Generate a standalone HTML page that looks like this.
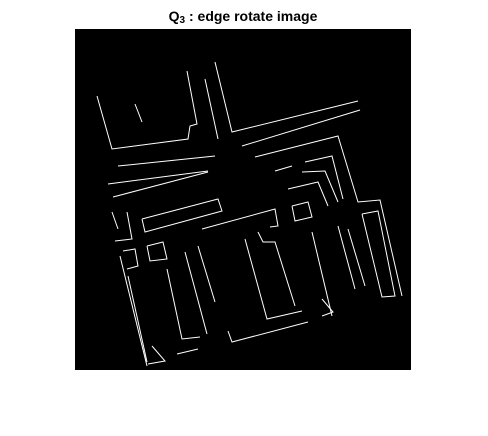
<!DOCTYPE html>
<html><head><meta charset="utf-8"><style>
html,body{margin:0;padding:0;background:#fff;width:488px;height:436px;overflow:hidden}
svg{display:block}
</style></head><body>
<svg width="488" height="436">
<text x="243" y="21" text-anchor="middle" font-family="Liberation Sans, sans-serif" font-weight="bold" font-size="14" fill="#000">Q<tspan font-size="10" dy="2">3</tspan><tspan dy="-2"> :  edge rotate image</tspan></text>
<rect x="75" y="29" width="336" height="341" fill="#000"/>
<g id="edges" fill="none" stroke="#fff" stroke-width="1"></g>
</svg>
<script>
const edgePaths = [
 [[215,62],[232,132],[358,101]],
 [[242,146],[360,110]],
 [[255,157],[338,136],[358,202],[380,200],[402,296]],
 [[97,96],[112,149],[188,139],[190,126],[197,124],[187,71]],
 [[205,79],[218,139]],
 [[135,104],[142,122]],
 [[118,166],[215,156]],
 [[108,184],[208,171]],
 [[113,197],[208,172]],
 [[142,219],[218,199],[222,211],[145,232],[142,219]],
 [[120,256],[147,366]],
 [[123,251],[135,249],[138,266],[127,269]],
 [[128,276],[147,362]],
 [[167,269],[182,339],[200,337]],
 [[185,252],[207,334]],
 [[147,246],[163,242],[167,259],[150,261],[147,246]],
 [[245,239],[267,319],[302,311]],
 [[258,232],[263,242],[275,242],[295,306]],
 [[202,229],[275,209],[278,226],[270,227]],
 [[292,206],[308,202],[312,217],[295,221],[292,206]],
 [[228,331],[232,342],[308,322]],
 [[322,299],[333,312],[322,316]],
 [[362,214],[378,211],[395,296],[382,297],[362,214]],
 [[312,232],[332,316]],
 [[338,226],[355,289]],
 [[348,229],[365,286]],
 [[288,189],[318,182],[328,206]],
 [[302,172],[325,171],[338,202]],
 [[305,162],[332,156],[343,199]],
 [[275,171],[292,166]],
 [[112,212],[118,229]],
 [[127,212],[132,239],[115,241]],
 [[198,246],[215,302]],
 [[152,346],[165,361],[148,364]],
 [[177,354],[198,349]]
];
const g = document.getElementById('edges');
edgePaths.forEach((pts, i) => {
  const p = document.createElementNS('http://www.w3.org/2000/svg', 'polyline');
  p.setAttribute('points', pts.map(q => q.join(',')).join(' '));
  
  
  g.appendChild(p);
});
</script>
</body></html>
